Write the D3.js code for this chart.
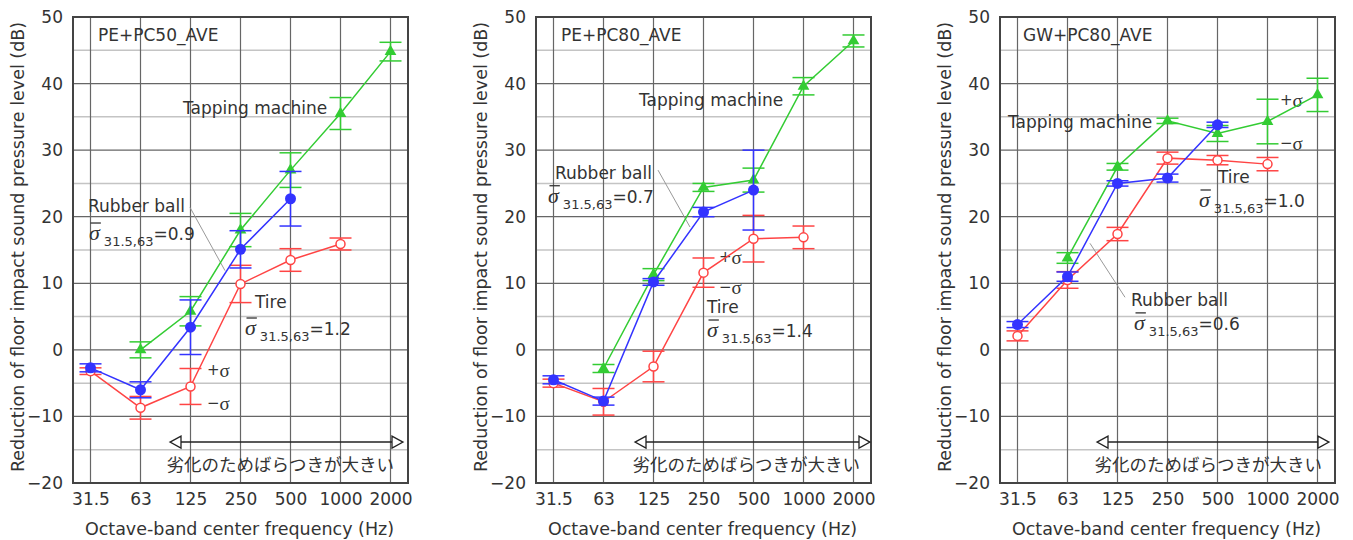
<!DOCTYPE html>
<html><head><meta charset="utf-8">
<script src="https://cdn.jsdelivr.net/npm/d3@7"></script>
<style>
html,body{margin:0;padding:0;background:#fff;}
svg{display:block;}
</style></head>
<body>
<svg id="chart" width="1353" height="540"></svg>
<script>
// ---------- DATA ----------
const frequencies = ["31.5","63","125","250","500","1000","2000"];
const yTickValues = [-20,-10,0,10,20,30,40,50];
const yMinorGrid = [-15,-5,5,15,25,35,45];
const panelTitles = ["PE+PC50_AVE","PE+PC80_AVE","GW+PC80_AVE"];
const seriesNames = ["Tapping machine","Rubber ball","Tire"];

// Panel 1: PE+PC50_AVE
const p1Tapping   = [null, 0.0, 5.8, 18.0, 27.0, 35.5, 44.8];
const p1TappingSd = [null, 1.2, 2.2, 2.5, 2.6, 2.4, 1.4];
const p1Rubber    = [-2.7, -6.0, 3.4, 15.1, 22.7, null, null];
const p1RubberSd  = [0.6, 1.2, 4.1, 2.8, 4.1, null, null];
const p1Tire      = [-3.2, -8.7, -5.5, 9.9, 13.5, 15.9, null];
const p1TireSd    = [0.5, 1.7, 2.7, 2.8, 1.7, 0.9, null];
const p1SigmaRubber = "0.9", p1SigmaTire = "1.2";

// Panel 2: PE+PC80_AVE
const p2Tapping   = [null, -2.8, 11.3, 24.4, 25.5, 39.6, 46.4];
const p2TappingSd = [null, 0.6, 0.9, 0.6, 1.8, 1.3, 0.9];
const p2Rubber    = [-4.5, -7.7, 10.2, 20.7, 24.0, null, null];
const p2RubberSd  = [0.6, 0.6, 0.5, 0.7, 6.0, null, null];
const p2Tire      = [-5.0, -7.8, -2.5, 11.6, 16.7, 16.9, null];
const p2TireSd    = [0.6, 2.0, 2.3, 2.2, 3.5, 1.7, null];
const p2SigmaRubber = "0.7", p2SigmaTire = "1.4";

// Panel 3: GW+PC80_AVE
const p3Tapping   = [null, 13.8, 27.5, 34.4, 32.5, 34.3, 38.3];
const p3TappingSd = [null, 0.8, 0.5, 0.4, 1.2, 3.35, 2.5];
const p3Rubber    = [3.8, 11.0, 25.0, 25.8, 33.8, null, null];
const p3RubberSd  = [0.45, 0.7, 0.4, 0.6, 0.4, null, null];
const p3Tire      = [2.1, 10.5, 17.4, 28.8, 28.5, 27.9, null];
const p3TireSd    = [0.75, 1.25, 1.0, 0.9, 0.7, 1.0, null];
const p3SigmaRubber = "0.6", p3SigmaTire = "1.0";

const xAxisTitle = "Octave-band center frequency (Hz)";
const yAxisTitle = "Reduction of floor impact sound pressure level (dB)";
const noteText = "劣化のためばらつきが大きい";
const sigmaSub = "31.5,63";

// ---------- LAYOUT / STYLE ----------
const latin = "'DejaVu Sans', sans-serif";
const cjk = "'Noto Sans CJK JP', sans-serif";
const serif = "'Liberation Serif', serif";
const colors = {tap:"#33cc33", rub:"#3333ff", tire:"#ff4444"};
const textColor = "#333";

const panels = [
  {left:73,  tap:p1Tapping, tapSd:p1TappingSd, rub:p1Rubber, rubSd:p1RubberSd, tire:p1Tire, tireSd:p1TireSd,
   sR:p1SigmaRubber, sT:p1SigmaTire,
   ann:{title:[0.15,47.3], tapLbl:[1.85,36.3], rubLbl:[-0.05,21.6], rubSig:[-0.03,16.5],
        tireLbl:[3.29,7.2], tireSig:[3.09,2.23], plus:[2.33,-3.0], minus:[2.33,-8.0],
        leader:[[1.99,21.4],[2.69,11.9]], arrow:[1.59,6.25,-13.85], note:[1.52,-17.0]}},
  {left:536, tap:p2Tapping, tapSd:p2TappingSd, rub:p2Rubber, rubSd:p2RubberSd, tire:p2Tire, tireSd:p2TireSd,
   sR:p2SigmaRubber, sT:p2SigmaTire,
   ann:{title:[0.15,47.3], tapLbl:[1.71,37.6], rubLbl:[0.03,26.6], rubSig:[-0.11,22.1],
        tireLbl:[3.07,6.4], tireSig:[3.07,1.93], plus:[3.31,14.0], minus:[3.31,9.4],
        leader:[[2.09,27.0],[2.73,18.45]], arrow:[1.63,6.33,-13.85], note:[1.58,-17.0]}},
  {left:1000, tap:p3Tapping, tapSd:p3TappingSd, rub:p3Rubber, rubSd:p3RubberSd, tire:p3Tire, tireSd:p3TireSd,
   sR:p3SigmaRubber, sT:p3SigmaTire,
   ann:{title:[0.11,47.3], tapLbl:[-0.19,34.2], rubLbl:[2.27,7.5], rubSig:[2.33,3.0],
        tireLbl:[4.01,26.0], tireSig:[3.63,21.46], plus:[5.25,37.5], minus:[5.25,31.1],
        leader:[[1.45,16.0],[2.15,7.9]], arrow:[1.59,6.23,-13.85], note:[1.54,-17.0]}}
];
const plotW = 335, plotTop = 17, plotBottom = 483;

const svg = d3.select("#chart");

panels.forEach((p, pi) => {
  const x = d3.scaleLinear().domain([-0.35, frequencies.length - 0.65]).range([p.left, p.left + plotW]);
  const y = d3.scaleLinear().domain([-20, 50]).range([plotBottom, plotTop]);
  const g = svg.append("g");

  // grid
  g.selectAll(".hmin").data(yMinorGrid).join("line")
    .attr("x1", p.left).attr("x2", p.left + plotW)
    .attr("y1", d => y(d)).attr("y2", d => y(d))
    .attr("stroke", "#c4c4c4").attr("stroke-width", 1.5);
  g.selectAll(".hmaj").data(yTickValues).join("line")
    .attr("x1", p.left).attr("x2", p.left + plotW)
    .attr("y1", d => y(d)).attr("y2", d => y(d))
    .attr("stroke", "#666").attr("stroke-width", 1.2);
  g.selectAll(".vg").data(frequencies).join("line")
    .attr("x1", (d,i) => x(i)).attr("x2", (d,i) => x(i))
    .attr("y1", plotTop).attr("y2", plotBottom)
    .attr("stroke", "#666").attr("stroke-width", 1.2);
  g.append("rect").attr("x", p.left).attr("y", plotTop).attr("width", plotW).attr("height", plotBottom - plotTop)
    .attr("fill", "none").attr("stroke", "#444").attr("stroke-width", 2);

  // axes
  const yAx = g.append("g").attr("transform", `translate(${p.left},0)`)
    .call(d3.axisLeft(y).tickValues(yTickValues).tickSize(0).tickPadding(10));
  yAx.select(".domain").remove();
  yAx.selectAll("text").attr("font-family", latin).attr("font-size", 17).attr("fill", textColor);

  const xAx = g.append("g").attr("transform", `translate(0,${plotBottom})`)
    .call(d3.axisBottom(x).tickValues(d3.range(frequencies.length)).tickFormat(i => frequencies[i]).tickSize(0).tickPadding(10));
  xAx.select(".domain").remove();
  xAx.selectAll("text").attr("font-family", latin).attr("font-size", 17).attr("fill", textColor);

  g.append("text").attr("x", p.left + plotW/2 - 1).attr("y", 535)
    .attr("text-anchor", "middle").attr("font-family", latin).attr("font-size", 17.5).attr("fill", textColor)
    .text(xAxisTitle);
  g.append("text").attr("transform", `translate(${p.left - 49},${(plotTop+plotBottom)/2 - 3}) rotate(-90)`)
    .attr("text-anchor", "middle").attr("font-family", latin).attr("font-size", 17.5).attr("fill", textColor)
    .text(yAxisTitle);

  // annotations (behind data)
  const a = p.ann;
  g.append("line")
    .attr("x1", x(a.leader[0][0])).attr("y1", y(a.leader[0][1]))
    .attr("x2", x(a.leader[1][0])).attr("y2", y(a.leader[1][1]))
    .attr("stroke", "#999").attr("stroke-width", 1);

  // double arrow
  const ax1 = x(a.arrow[0]), ax2 = x(a.arrow[1]), ay = y(a.arrow[2]);
  const hl = 11, hh = 6;
  g.append("line").attr("x1", ax1 + hl).attr("x2", ax2 - hl).attr("y1", ay).attr("y2", ay)
    .attr("stroke", "#222").attr("stroke-width", 1.5);
  g.append("path").attr("d", `M${ax1},${ay} L${ax1+hl},${ay-hh} L${ax1+hl},${ay+hh} Z`)
    .attr("fill", "#fff").attr("stroke", "#222").attr("stroke-width", 1.3);
  g.append("path").attr("d", `M${ax2},${ay} L${ax2-hl},${ay-hh} L${ax2-hl},${ay+hh} Z`)
    .attr("fill", "#fff").attr("stroke", "#222").attr("stroke-width", 1.3);
  g.append("text").attr("x", x(a.note[0])).attr("y", y(a.note[1])).attr("dominant-baseline", "central")
    .attr("font-family", cjk).attr("font-size", 17.5).attr("fill", textColor).text(noteText);

  const label = (pos, txt, fam, size) => g.append("text")
    .attr("x", x(pos[0])).attr("y", y(pos[1])).attr("dominant-baseline", "central")
    .attr("font-family", fam || latin).attr("font-size", size || 17).attr("fill", textColor).text(txt);

  label(a.title, panelTitles[pi]);
  label(a.tapLbl, seriesNames[0]);
  label(a.rubLbl, seriesNames[1]);
  label(a.tireLbl, seriesNames[2]);

  const pm = (pos, sign) => {
    const t = g.append("text").attr("x", x(pos[0])).attr("y", y(pos[1])).attr("dominant-baseline", "central")
      .attr("fill", textColor);
    t.append("tspan").attr("font-family", latin).attr("font-size", 15).text(sign);
    t.append("tspan").attr("font-family", serif).attr("font-size", 19).text("σ");
  };
  pm(a.plus, "+");
  pm(a.minus, "−");

  const sigmaLabel = (pos, val) => {
    const t = g.append("text").attr("x", x(pos[0])).attr("y", y(pos[1])).attr("fill", textColor);
    t.append("tspan").attr("font-family", serif).attr("font-style", "italic").attr("font-size", 22).text("σ");
    t.append("tspan").attr("font-family", latin).attr("font-size", 13).attr("dx", 4).attr("dy", 6).text(sigmaSub);
    t.append("tspan").attr("font-family", latin).attr("font-size", 17).attr("dy", -6).text("=" + val);
    const ext = t.node().getExtentOfChar(0);
    g.append("line").attr("x1", ext.x + 1.5).attr("x2", ext.x + ext.width + 1)
      .attr("y1", y(pos[1]) - 17).attr("y2", y(pos[1]) - 17)
      .attr("stroke", textColor).attr("stroke-width", 1.3);
  };
  sigmaLabel(a.rubSig, p.sR);
  sigmaLabel(a.tireSig, p.sT);

  // series
  const series = [
    {vals:p.tire, sd:p.tireSd, color:colors.tire, marker:"open"},
    {vals:p.tap, sd:p.tapSd, color:colors.tap, marker:"tri"},
    {vals:p.rub, sd:p.rubSd, color:colors.rub, marker:"dot"}
  ];
  series.forEach(s => {
    const pts = s.vals.map((v,i) => ({i, v, sd:s.sd[i]})).filter(d => d.v !== null);
    const sg = g.append("g");
    pts.forEach(d => {
      sg.append("line").attr("x1", x(d.i)).attr("x2", x(d.i))
        .attr("y1", y(d.v + d.sd)).attr("y2", y(d.v - d.sd)).attr("stroke", s.color).attr("stroke-width", 1.5);
      [d.v + d.sd, d.v - d.sd].forEach(e => sg.append("line")
        .attr("x1", x(d.i) - 11).attr("x2", x(d.i) + 11).attr("y1", y(e)).attr("y2", y(e))
        .attr("stroke", s.color).attr("stroke-width", 1.5));
    });
    sg.append("path").datum(pts)
      .attr("d", d3.line().x(d => x(d.i)).y(d => y(d.v)))
      .attr("fill", "none").attr("stroke", s.color).attr("stroke-width", 1.5);
    pts.forEach(d => {
      if (s.marker === "tri") {
        sg.append("path").attr("d", d3.symbol(d3.symbolTriangle, 60)())
          .attr("transform", `translate(${x(d.i)},${y(d.v)})`).attr("fill", s.color);
      } else if (s.marker === "dot") {
        sg.append("circle").attr("cx", x(d.i)).attr("cy", y(d.v)).attr("r", 5.5).attr("fill", s.color);
      } else {
        sg.append("circle").attr("cx", x(d.i)).attr("cy", y(d.v)).attr("r", 4.5)
          .attr("fill", "#fff").attr("stroke", s.color).attr("stroke-width", 1.5);
      }
    });
  });
});
</script>
</body></html>
